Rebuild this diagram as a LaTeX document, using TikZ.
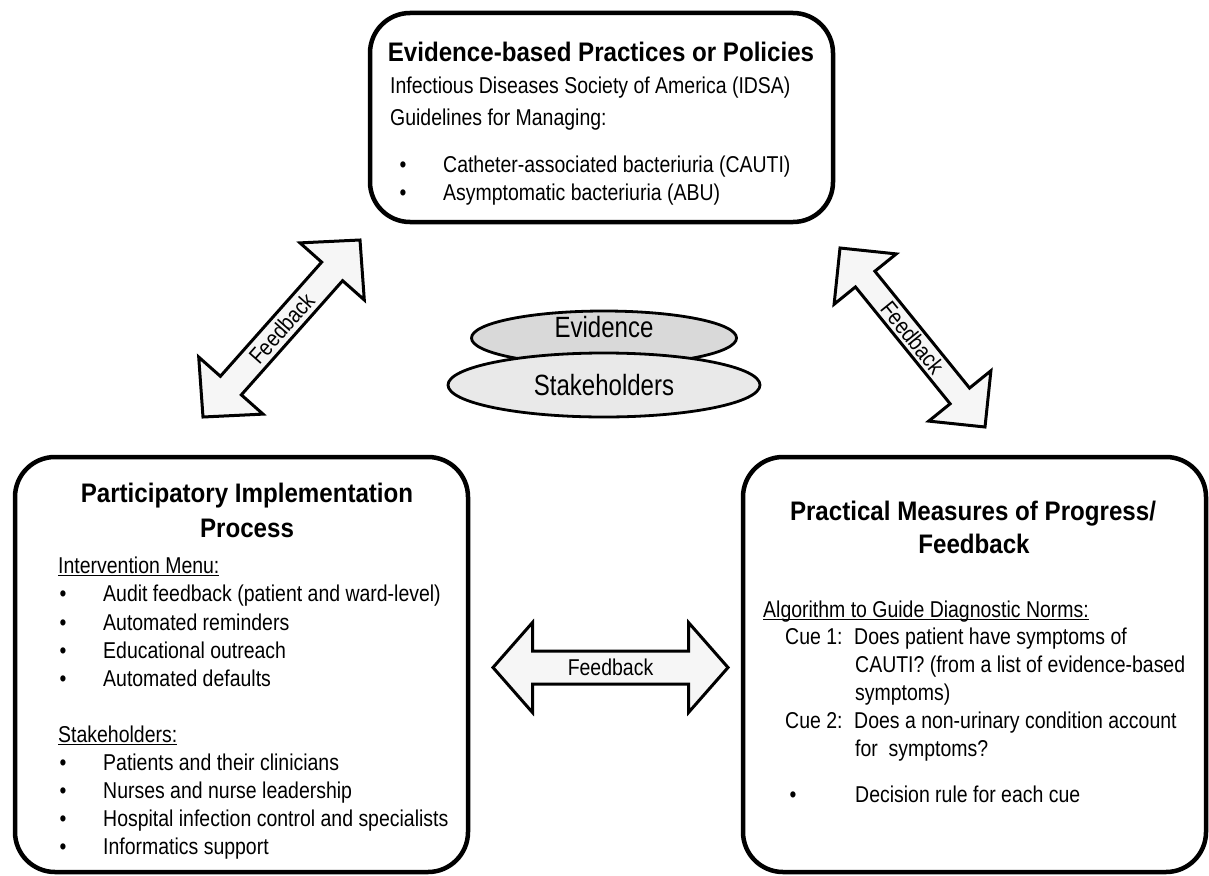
\documentclass[tikz,border=0pt]{standalone}
\usepackage{fontspec}
\usetikzlibrary{calc,shapes.geometric}
\setmainfont{Liberation Sans}
\newfontfamily\bodyf[FakeStretch=0.85]{Liberation Sans}
\newfontfamily\headf[FakeStretch=0.9]{Liberation Sans}
\newfontfamily\ellf[FakeStretch=0.82]{Liberation Sans}
\newcommand\myul[1]{\setbox0=\hbox{#1}\rlap{\rule[-3pt]{\wd0}{1.3pt}}\box0}
\definecolor{arrowfill}{gray}{0.965}
\definecolor{evfill}{gray}{0.85}
\definecolor{stfill}{gray}{0.915}
\tikzset{
  panel/.style={draw=black, line width=4.5pt, rounded corners=40pt, fill=white, inner sep=0pt},
  body/.style={inner sep=0pt, font=\bodyf\fontsize{22.9}{27}\selectfont},
  line/.style={body, anchor=base west},
  bul/.style={body, anchor=base},
  head/.style={inner sep=0pt, anchor=base, font=\headf\bfseries\fontsize{26.8}{31}\selectfont},
  blockarrow/.style={draw=black, line width=3pt, fill=arrowfill, line join=miter},
  fbtext/.style={body, inner sep=0pt},
  ellbox/.style={ellipse, draw=black, line width=2.8pt, inner sep=0pt},
  elltext/.style={inner sep=0pt, anchor=base, font=\ellf\fontsize{29.3}{34}\selectfont}
}
\newcommand\dblarrow[6]{%
  \coordinate (#1h) at ($(#1)!#3!(#2)$);
  \coordinate (#2h) at ($(#2)!#3!(#1)$);
  \draw[blockarrow] (#1) -- ($(#1h)!#5!90:(#2)$) -- ($(#1h)!#4!90:(#2)$)
    -- ($(#2h)!#4!-90:(#1)$) -- ($(#2h)!#5!-90:(#1)$) -- (#2)
    -- ($(#2h)!#5!90:(#1)$) -- ($(#2h)!#4!90:(#1)$)
    -- ($(#1h)!#4!-90:(#2)$) -- ($(#1h)!#5!-90:(#2)$) -- cycle;
  \path (#1) -- (#2) node[midway, sloped, fbtext] (#6) {Feedback};
}
\begin{document}
\begin{tikzpicture}[x=1pt, y=-1pt]
\useasboundingbox[fill=white] (0,0) rectangle (1209,875);

% panels
\node[panel, minimum width=463pt, minimum height=209pt] (top) at (601.5,117.5) {};
\node[panel, minimum width=453pt, minimum height=415pt] (left) at (241.5,664.5) {};
\node[panel, minimum width=463pt, minimum height=415pt] (right) at (974.5,664.5) {};

% top panel text
\node[head] (t0) at (601,62) {Evidence-based Practices or Policies};
\node[line] (t1) at (390,93) {Infectious Diseases Society of America (IDSA)};
\node[line] (t2) at (390,125) {Guidelines for Managing:};
\node[bul] (tb1) at (403,172) {•};
\node[line] (t3) at (443,172) {Catheter-associated bacteriuria (CAUTI)};
\node[bul] (tb2) at (403,200) {•};
\node[line] (t4) at (443,200) {Asymptomatic bacteriuria (ABU)};

% left panel text
\node[head] (l0) at (247,502) {Participatory Implementation};
\node[head] (l1) at (247,537) {Process};
\node[line] (l2) at (58,573) {\myul{Intervention Menu:}};
\node[bul] (lb1) at (63,601) {•};
\node[line] (l3) at (103,601) {Audit feedback (patient and ward-level)};
\node[bul] (lb2) at (63,630) {•};
\node[line] (l4) at (103,630) {Automated reminders};
\node[bul] (lb3) at (63,658) {•};
\node[line] (l5) at (103,658) {Educational outreach};
\node[bul] (lb4) at (63,686) {•};
\node[line] (l6) at (103,686) {Automated defaults};
\node[line] (l7) at (58,742) {\myul{Stakeholders:}};
\node[bul] (lb5) at (63,770) {•};
\node[line] (l8) at (103,770) {Patients and their clinicians};
\node[bul] (lb6) at (63,798) {•};
\node[line] (l9) at (103,798) {Nurses and nurse leadership};
\node[bul] (lb7) at (63,826) {•};
\node[line] (l10) at (103,826) {Hospital infection control and specialists};
\node[bul] (lb8) at (63,854) {•};
\node[line] (l11) at (103,854) {Informatics support};

% right panel text
\node[head] (r0) at (973,520) {Practical Measures of Progress/};
\node[head] (r1) at (974,553) {Feedback};
\node[line] (r2) at (763,617) {\myul{Algorithm to Guide Diagnostic Norms:}};
\node[line] (r3) at (785,644) {\makebox[69pt][l]{Cue 1:}Does patient have symptoms of};
\node[line] (r4) at (855,672) {CAUTI? (from a list of evidence-based};
\node[line] (r5) at (855,700) {symptoms)};
\node[line] (r6) at (785,728) {\makebox[69pt][l]{Cue 2:}Does a non-urinary condition account};
\node[line] (r7) at (855,756) {for\ \ symptoms?};
\node[bul] (rb1) at (793,802) {•};
\node[line] (r8) at (855,802) {Decision rule for each cue};

% central ellipses
\node[ellbox, fill=evfill, minimum width=265pt, minimum height=54pt] (ev) at (604,338) {};
\node[ellbox, fill=stfill, minimum width=312pt, minimum height=64pt] (st) at (604,385) {};
\node[elltext] (evt) at (604,337) {Evidence};
\node[elltext] (stt) at (604,395) {Stakeholders};

% feedback block arrows
\coordinate (la) at (203,417);
\coordinate (lb) at (360,240);
\dblarrow{la}{lb}{42pt}{14pt}{43pt}{fbl}
\coordinate (ra) at (840,248);
\coordinate (rb) at (985,427);
\dblarrow{ra}{rb}{40pt}{12.5pt}{40pt}{fbr}
\coordinate (ha) at (493,667.5);
\coordinate (hb) at (728,667.5);
\dblarrow{ha}{hb}{39.5pt}{16.5pt}{45pt}{fbh}
\end{tikzpicture}
\end{document}
